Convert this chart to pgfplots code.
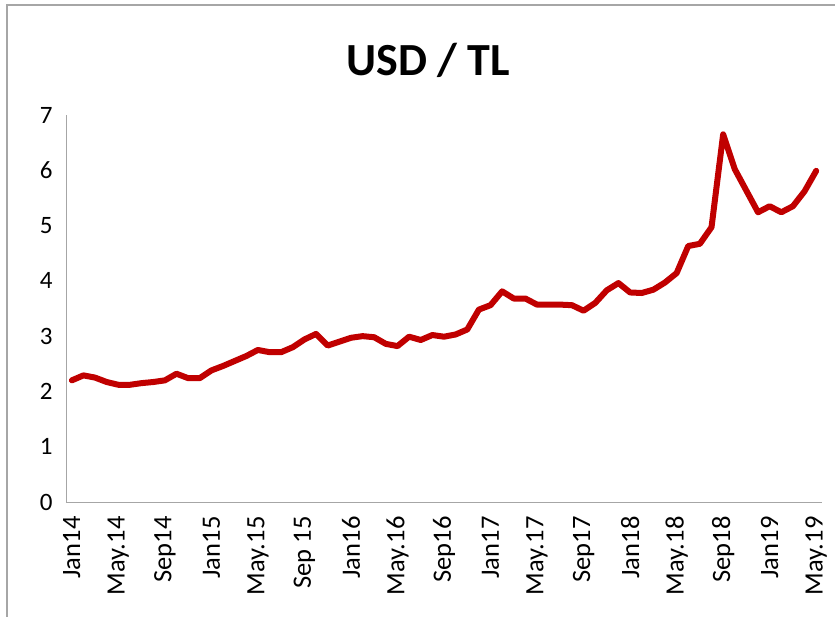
\documentclass[border=0pt]{standalone}
\usepackage{pgfplots}
\pgfplotsset{compat=1.18}
\usepackage{fontspec}
\setmainfont{Carlito}
\definecolor{usdred}{HTML}{C00000}
\definecolor{axgray}{HTML}{A6A6A6}
\begin{document}
\begin{tikzpicture}[x=1pt,y=1pt]
\useasboundingbox (0,0) rectangle (835,617);
\draw[axgray, line width=1.2pt] (7,0) -- (7,612) -- (835,612);
\node[font=\bfseries\fontsize{46}{52}\selectfont, anchor=center] at (428,557) {USD / TL};
\begin{axis}[
  at={(66pt,115pt)}, anchor=south west,
  scale only axis, width=756pt, height=387pt,
  xmin=-0.5, xmax=64.5, ymin=0, ymax=7,
  axis x line*=bottom, axis y line*=left,
  axis line style={axgray, line width=0.8pt},
  major tick length=0pt,
  ytick={0,1,2,3,4,5,6,7},
  xtick={0,4,8,12,16,20,24,28,32,36,40,44,48,52,56,60,64},
  xticklabels={Jan14,May.14,Sep14,Jan15,May.15,Sep 15,Jan16,May.16,Sep16,Jan17,May.17,Sep17,Jan18,May.18,Sep18,Jan19,May.19},
  xticklabel style={rotate=90, anchor=east, font=\fontsize{26.5}{30}\selectfont, xshift=-11pt},
  yticklabel style={font=\fontsize{25}{30}\selectfont, xshift=-10pt},
  /pgf/number format/assume math mode=true,
  clip=false,
]
\addplot[usdred, line width=6pt, line join=round, line cap=round, mark=none] table {
x y
0 2.20
1 2.29
2 2.25
3 2.17
4 2.12
5 2.12
6 2.15
7 2.17
8 2.20
9 2.32
10 2.24
11 2.24
12 2.38
13 2.46
14 2.55
15 2.64
16 2.75
17 2.71
18 2.71
19 2.80
20 2.94
21 3.04
22 2.83
23 2.90
24 2.97
25 3.00
26 2.98
27 2.86
28 2.82
29 2.99
30 2.93
31 3.02
32 2.99
33 3.03
34 3.12
35 3.48
36 3.56
37 3.81
38 3.68
39 3.68
40 3.57
41 3.57
42 3.57
43 3.56
44 3.46
45 3.60
46 3.83
47 3.96
48 3.79
49 3.78
50 3.84
51 3.97
52 4.14
53 4.63
54 4.67
55 4.97
56 6.65
57 6.02
58 5.63
59 5.24
60 5.35
61 5.24
62 5.35
63 5.62
64 5.99
};
\end{axis}
\end{tikzpicture}
\end{document}
